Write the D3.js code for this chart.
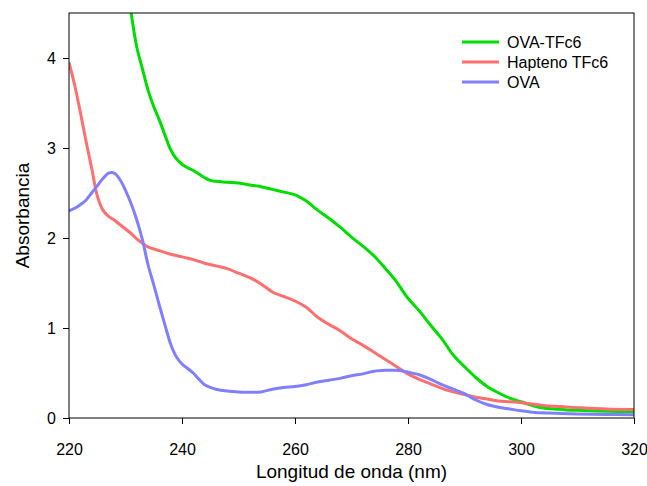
<!DOCTYPE html>
<html>
<head>
<meta charset="utf-8">
<script src="https://cdn.jsdelivr.net/npm/d3@7"></script>
<style>
  html, body { margin: 0; padding: 0; background: #fff; }
  svg { display: block; font-family: "Liberation Sans", Arial, sans-serif; }
</style>
</head>
<body>
<svg id="chart" width="647" height="486"></svg>
<script>
// Wavelength (nm) / absorbance pairs for each spectrum
const ovaTfc6Wl  = [230.5,231,232,233,234,235,236,237,238,239,240,241,242,243,244,245,246,248,250,252,254,256,258,260,262,264,266,268,270,272,274,276,278,280,282,284,286,288,290,292,294,296,298,300,302,304,306,308,310,315,320];
const ovaTfc6Abs = [4.75,4.50,4.12,3.88,3.64,3.46,3.31,3.14,2.98,2.88,2.82,2.78,2.75,2.71,2.67,2.64,2.63,2.62,2.61,2.59,2.57,2.54,2.51,2.48,2.41,2.31,2.22,2.12,2.01,1.91,1.80,1.66,1.51,1.33,1.19,1.03,0.88,0.70,0.57,0.45,0.35,0.28,0.22,0.18,0.14,0.11,0.10,0.09,0.085,0.075,0.07];

const haptenoWl  = [220,221,222,223,224,225,226,227,228,229,230,231,232,233,234,236,238,240,242,244,246,248,250,252,254,256,258,260,262,264,266,268,270,272,274,276,278,280,282,284,286,288,290,292,294,296,298,300,302,304,306,310,315,320];
const haptenoAbs = [3.95,3.70,3.40,3.08,2.78,2.47,2.31,2.24,2.20,2.15,2.10,2.05,1.99,1.94,1.90,1.86,1.82,1.79,1.76,1.72,1.69,1.66,1.61,1.56,1.49,1.40,1.35,1.30,1.23,1.12,1.04,0.97,0.88,0.81,0.73,0.65,0.57,0.49,0.43,0.38,0.33,0.29,0.26,0.23,0.21,0.19,0.18,0.17,0.155,0.14,0.13,0.115,0.10,0.095];

const ovaWl  = [220,221,222,223,224,225,226,227,228,229,230,231,232,233,234,235,236,237,238,239,240,241,242,243,244,245,246,248,250,252,254,256,258,260,262,264,266,268,270,272,274,276,278,280,282,284,286,288,290,292,294,296,298,300,302,305,310,315,320];
const ovaAbs = [2.30,2.33,2.37,2.42,2.50,2.58,2.66,2.72,2.72,2.65,2.53,2.38,2.20,1.98,1.70,1.48,1.25,1.03,0.82,0.68,0.60,0.55,0.50,0.43,0.37,0.34,0.32,0.30,0.29,0.285,0.29,0.32,0.34,0.35,0.37,0.40,0.42,0.44,0.47,0.49,0.52,0.53,0.53,0.51,0.48,0.43,0.37,0.32,0.27,0.20,0.15,0.12,0.10,0.08,0.065,0.055,0.045,0.04,0.035];

const seriesNames  = ["OVA-TFc6", "Hapteno TFc6", "OVA"];
const seriesColors = ["#00dd00", "#ff6f6f", "#8080ff"];

const xTicks = [220, 240, 260, 280, 300, 320];
const yTicks = [0, 1, 2, 3, 4];

const series = [
  { name: seriesNames[0], color: seriesColors[0], pts: ovaTfc6Wl.map((w, i) => [w, ovaTfc6Abs[i]]) },
  { name: seriesNames[1], color: seriesColors[1], pts: haptenoWl.map((w, i) => [w, haptenoAbs[i]]) },
  { name: seriesNames[2], color: seriesColors[2], pts: ovaWl.map((w, i) => [w, ovaAbs[i]]) }
];

const W = 647, H = 486;
const margin = { top: 13, right: 13, bottom: 68, left: 69 };
const iw = W - margin.left - margin.right;
const ih = H - margin.top - margin.bottom;

const svg = d3.select("#chart");
const g = svg.append("g").attr("transform", `translate(${margin.left},${margin.top})`);

const x = d3.scaleLinear().domain([220, 320]).range([0, iw]);
const y = d3.scaleLinear().domain([0, 4.5]).range([ih, 0]);

svg.append("defs").append("clipPath").attr("id", "plotClip")
  .append("rect").attr("x", 0).attr("y", 0).attr("width", iw).attr("height", ih);

const line = d3.line()
  .x(d => x(d[0]))
  .y(d => y(d[1]))
  .curve(d3.curveCatmullRom.alpha(0.5));

g.append("g").attr("clip-path", "url(#plotClip)")
  .selectAll("path").data(series).join("path")
  .attr("fill", "none")
  .attr("stroke", d => d.color)
  .attr("stroke-width", 3)
  .attr("stroke-linejoin", "round")
  .attr("d", d => line(d.pts));

// Frame
g.append("rect").attr("x", 0).attr("y", 0).attr("width", iw).attr("height", ih)
  .attr("fill", "none").attr("stroke", "#000").attr("stroke-width", 1);

// Axes
const xAxis = g.append("g").attr("transform", `translate(0,${ih})`)
  .call(d3.axisBottom(x).tickValues(xTicks).tickSize(6).tickPadding(20).tickFormat(d3.format("d")));
const yAxis = g.append("g")
  .call(d3.axisLeft(y).tickValues(yTicks).tickSize(6).tickPadding(7).tickFormat(d3.format("d")));
[xAxis, yAxis].forEach(a => {
  a.select(".domain").remove();
  a.selectAll("line").attr("stroke", "#000");
  a.selectAll("text").attr("fill", "#000").style("font-size", "16px")
    .style("font-family", "'Liberation Sans', Arial, sans-serif");
});

// Axis titles
svg.append("text")
  .attr("x", margin.left + iw / 2).attr("y", 478)
  .attr("text-anchor", "middle").style("font-size", "19px").attr("fill", "#000")
  .text("Longitud de onda (nm)");
svg.append("text")
  .attr("transform", `translate(29,${margin.top + ih / 2}) rotate(-90)`)
  .attr("text-anchor", "middle").style("font-size", "19px").attr("fill", "#000")
  .text("Absorbancia");

// Legend
const legend = svg.append("g").attr("transform", "translate(462,42)");
const items = legend.selectAll("g").data(series).join("g")
  .attr("transform", (d, i) => `translate(0,${i * 20})`);
items.append("line").attr("x1", 0).attr("x2", 37).attr("y1", 0).attr("y2", 0)
  .attr("stroke", d => d.color).attr("stroke-width", 3);
items.append("text").attr("x", 45).attr("y", 0).attr("dy", "0.35em")
  .style("font-size", "16px").attr("fill", "#000").text(d => d.name);
</script>
</body>
</html>
